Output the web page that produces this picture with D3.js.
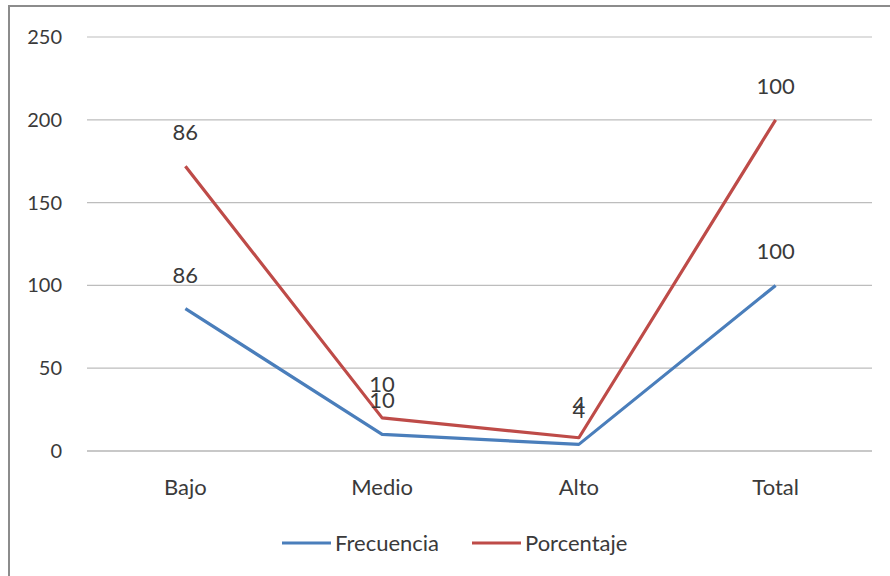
<!DOCTYPE html>
<html><head><meta charset="utf-8">
<script src="https://cdn.jsdelivr.net/npm/d3@7"></script>
<style>body{margin:0;background:#fff}svg{display:block}text{font-family:Lato,"Open Sans",sans-serif;fill:#3a3a3a}</style>
</head><body><svg id="c" width="890" height="576"></svg>
<script>
const categories = ["Bajo","Medio","Alto","Total"];
const frecuencia = [86,10,4,100];
const porcentaje = [86,10,4,100];
const seriesNames = ["Frecuencia","Porcentaje"];
const colors = ["#4a7ebb","#be4b48"];
const yTicks = [0,50,100,150,200,250];

const svg = d3.select("#c");
// frame
svg.append("path").attr("d","M9,576 V6 H890").attr("fill","none").attr("stroke","#8c8c8c").attr("stroke-width",2);

const x = d3.scaleBand().domain(categories).range([87,874]);
const y = d3.scaleLinear().domain([0,250]).range([451,37]);

// grid
svg.append("g").selectAll("line").data(yTicks).join("line")
  .attr("x1",87).attr("x2",872).attr("y1",d=>y(d)).attr("y2",d=>y(d))
  .attr("stroke",d=>d===0?"#c8c8c8":"#bdbdbd").attr("stroke-width",d=>d===0?2:1.2);

const yAxis = svg.append("g").attr("transform","translate(62,0)")
  .call(d3.axisLeft(y).tickValues(yTicks).tickSize(0).tickPadding(0));
yAxis.select(".domain").remove();
yAxis.selectAll("text").style("font-size","20px").attr("fill","#3a3a3a").attr("font-family","Lato");

const xAxis = svg.append("g").attr("transform","translate(0,451)")
  .call(d3.axisBottom(x).tickSize(0).tickPadding(28));
xAxis.select(".domain").remove();
xAxis.selectAll("text").style("font-size","22px").attr("fill","#3a3a3a").attr("font-family","Lato");

// stacked values
const stacked = [frecuencia, frecuencia.map((v,i)=>v+porcentaje[i])];
const labels = [frecuencia, porcentaje];
const cx = c => x(c)+x.bandwidth()/2;
const line = d3.line().x((d,i)=>cx(categories[i])).y(d=>y(d));
stacked.forEach((s,k)=>{
  svg.append("path").datum(s).attr("d",line).attr("fill","none")
    .attr("stroke",colors[k]).attr("stroke-width",3.2).attr("stroke-linejoin","round");
});
stacked.forEach((s,k)=>{
  svg.append("g").selectAll("text").data(s).join("text")
    .attr("x",(d,i)=>cx(categories[i])).attr("y",d=>y(d)-26)
    .attr("text-anchor","middle").style("font-size","22px")
    .text((d,i)=>labels[k][i]);
});

// legend
const leg = [{n:seriesNames[0],x:282},{n:seriesNames[1],x:472}];
leg.forEach((l,k)=>{
  svg.append("line").attr("x1",l.x).attr("x2",l.x+49).attr("y1",543).attr("y2",543)
    .attr("stroke",colors[k]).attr("stroke-width",3.2);
  svg.append("text").attr("x",l.x+53).attr("y",551).style("font-size","22px").text(l.n);
});
</script></body></html>
